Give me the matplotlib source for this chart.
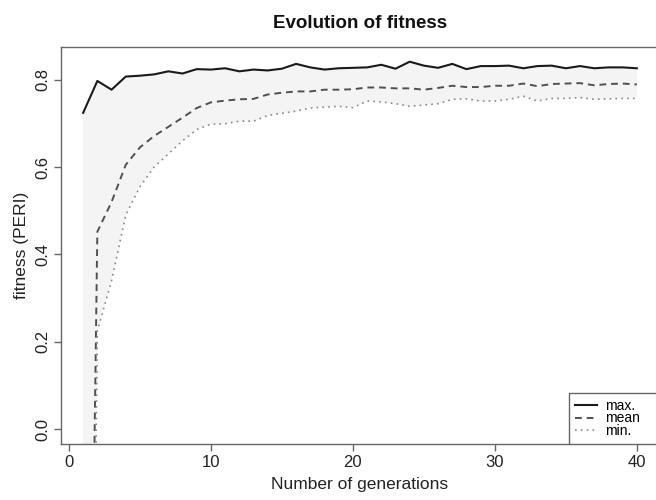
import numpy as np
import matplotlib
matplotlib.use("Agg")
import matplotlib.pyplot as plt
from matplotlib.patches import Rectangle

plt.rcParams['font.family'] = ['Liberation Sans', 'DejaVu Sans']

# values (gen 1 mean/min fall far below the axis)
generations = list(range(1, 41))
fit_max = [0.724, 0.797, 0.777, 0.807, 0.809, 0.812, 0.819, 0.814, 0.824, 0.823,
           0.826, 0.819, 0.823, 0.821, 0.825, 0.836, 0.828, 0.823, 0.826, 0.827,
           0.828, 0.834, 0.825, 0.841, 0.832, 0.827, 0.836, 0.824, 0.831, 0.831,
           0.832, 0.826, 0.831, 0.832, 0.826, 0.831, 0.826, 0.828, 0.828, 0.826]
fit_mean = [-1.95, 0.452, 0.52, 0.605, 0.645, 0.671, 0.692, 0.713, 0.735, 0.748,
            0.752, 0.755, 0.756, 0.766, 0.770, 0.773, 0.773, 0.777, 0.777, 0.778,
            0.782, 0.782, 0.780, 0.780, 0.777, 0.781, 0.786, 0.783, 0.783, 0.786,
            0.786, 0.791, 0.785, 0.790, 0.791, 0.792, 0.787, 0.790, 0.791, 0.789]
fit_min = [-2.5, 0.225, 0.34, 0.49, 0.555, 0.600, 0.630, 0.660, 0.686, 0.698,
           0.699, 0.705, 0.705, 0.718, 0.723, 0.728, 0.735, 0.737, 0.739, 0.736,
           0.751, 0.749, 0.745, 0.739, 0.742, 0.745, 0.755, 0.756, 0.751, 0.751,
           0.755, 0.762, 0.751, 0.757, 0.757, 0.759, 0.755, 0.756, 0.757, 0.757]
x_ticks = [0, 10, 20, 30, 40]
y_ticks = [0.0, 0.2, 0.4, 0.6, 0.8]

W, H = 656, 500
fig = plt.figure(figsize=(W / 100, H / 100), dpi=100)
# plot box runs a little past the right edge of the picture, as in the reference
ax = fig.add_axes([61 / W, (H - 444) / H, (659 - 61) / W, (444 - 47) / H])

ax.fill_between(generations, fit_min, fit_max, color='#f4f4f4', lw=0)
ax.plot(generations, fit_max, color='#1a1a1a', lw=1.5, ls='-', label='max.')
ax.plot(generations, fit_mean, color='#505050', lw=1.4, ls=(0, (3.5, 2.5)), label='mean')
ax.plot(generations, fit_min, color='#8a8a8a', lw=1.2, ls=(0, (1, 2.5)), label='min.')

ymax = max(fit_max)
ax.set_xlim(1 - 0.04 * 39, 40 + 0.04 * 39)
ax.set_ylim(-0.04 * ymax, ymax * 1.04)
ax.set_xticks(x_ticks)
ax.set_yticks(y_ticks)
ax.set_yticklabels([f"{v:.1f}" for v in y_ticks], rotation=90, va='center')

for s in ax.spines.values():
    s.set_color('#666666')
    s.set_linewidth(1.0)
ax.tick_params(colors='#666666', labelcolor='#222222', length=5, width=1,
               labelsize=12, pad=3)

ax.set_title('Evolution of fitness', fontsize=13.5, fontweight='bold', pad=14,
             color='#111111')
ax.set_xlabel('Number of generations', fontsize=12.5, color='#222222', labelpad=5)
ax.set_ylabel('fitness (PERI)', fontsize=12.5, color='#222222', labelpad=4)

# legend box: drawn by hand so it can run off the right edge like R's
leg_x0 = (569 - 61) / 598
leg_y1 = (444 - 393) / 397
ax.add_patch(Rectangle((leg_x0, 0), 1 - leg_x0, leg_y1, transform=ax.transAxes,
                       facecolor='white', edgecolor='#666666', lw=1.0, zorder=4))
leg = ax.legend(loc='upper left', bbox_to_anchor=(leg_x0, leg_y1), borderaxespad=0,
                frameon=False, fontsize=10, handlelength=1.6, handletextpad=0.6,
                labelspacing=-0.08, borderpad=0.4)
leg.set_zorder(5)

fig.savefig('out.png', dpi=100)
